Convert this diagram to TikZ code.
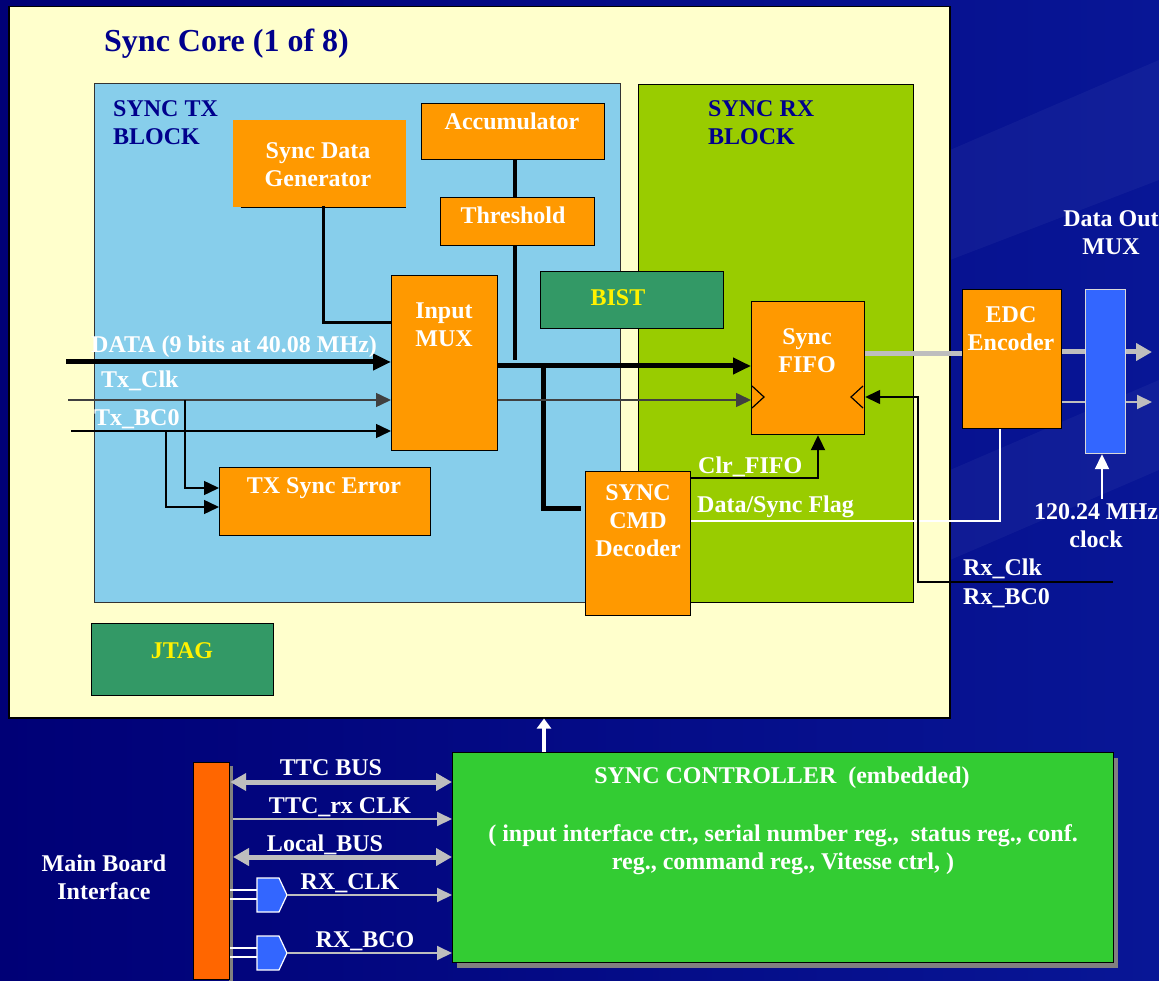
\documentclass[tikz,border=0pt]{standalone}
\usepackage{fontspec}
\setmainfont{Liberation Serif}
\usetikzlibrary{arrows.meta,positioning}

\definecolor{bgdark}{RGB}{0,0,118}
\definecolor{bglight}{RGB}{8,22,150}
\definecolor{corebg}{RGB}{255,255,204}
\definecolor{txbg}{RGB}{135,206,235}
\definecolor{rxbg}{RGB}{153,204,0}
\definecolor{blkorange}{RGB}{255,153,0}
\definecolor{bistgreen}{RGB}{51,153,102}
\definecolor{ctrlgreen}{RGB}{51,204,51}
\definecolor{muxblue}{RGB}{51,102,255}
\definecolor{mbiorange}{RGB}{255,102,0}
\definecolor{titleblue}{RGB}{0,0,140}
\definecolor{wiregray}{RGB}{190,190,190}
\definecolor{clkgray}{RGB}{64,64,64}
\definecolor{shadowgray}{RGB}{128,128,128}

\tikzset{
  blk/.style={draw=black, line width=1.2pt, fill=blkorange, anchor=north west, inner sep=0pt},
  gblk/.style={blk, fill=bistgreen},
  txt/.style={font=\bfseries\fontsize{24}{28}\selectfont, align=center, inner sep=0pt},
  wtxt/.style={txt, text=white},
  btxt/.style={txt, text=titleblue, align=left},
  ytxt/.style={txt, text=yellow},
  bus/.style={line width=5pt},
  wire/.style={line width=1.5pt},
  tip/.style={-{Triangle[length=15pt,width=14pt]}},
  bigtip/.style={-{Triangle[length=18pt,width=16pt]}},
  dtip/.style={{Triangle[length=16pt,width=17pt]}-{Triangle[length=16pt,width=17pt]}},
}

\begin{document}
\begin{tikzpicture}[x=1pt, y=-1pt]
    \useasboundingbox (0,0) rectangle (1159,981);
    % ===== Background =====
    \shade[left color=bgdark, right color=bglight] (0,0) rectangle (1159,981);
    \fill[white, opacity=0.04] (950,150) -- (1159,60) -- (1159,180) -- (950,260) -- cycle;
    \fill[white, opacity=0.04] (950,470) -- (1159,380) -- (1159,470) -- (950,560) -- cycle;

    % ===== Sync core =====
    \node[blk, fill=corebg, line width=1.5pt, minimum width=941pt, minimum height=711pt] (core) at (8,6) {};
    \node[txt, text=titleblue, font=\bfseries\fontsize{32}{36}\selectfont, anchor=west] (title) at (104,44) {Sync Core (1 of 8)};

    \node[blk, fill=txbg, draw=black!80, minimum width=526pt, minimum height=519pt] (txblk) at (94,83) {};
    \node[blk, fill=rxbg, minimum width=275pt, minimum height=518pt] (rxblk) at (638,84) {};
    \node[btxt, anchor=west] (txlbl) at (113,123) {SYNC TX\\BLOCK};
    \node[btxt, anchor=west] (rxlbl) at (708,123) {SYNC RX\\BLOCK};

    % blocks
    \draw[line width=1.5pt] (405,137) -- (405,207) -- (241,207);
    \node[blk, draw=none, minimum width=173pt, minimum height=87pt] (gen) at (232,119) {};
    \node[blk, minimum width=183pt, minimum height=56pt] (acc) at (421,103) {};
    \node[blk, minimum width=154pt, minimum height=48pt] (thr) at (440,197) {};
    \node[blk, minimum width=106pt, minimum height=175pt] (imux) at (391,275) {};
    \node[gblk, minimum width=183pt, minimum height=57pt] (bist) at (540,271) {};
    \node[blk, minimum width=113pt, minimum height=133pt] (fifo) at (751,301) {};
    \node[blk, minimum width=211pt, minimum height=68pt] (txerr) at (219,467) {};
    \node[blk, minimum width=105pt, minimum height=144pt] (cmd) at (585,471) {};
    \node[gblk, minimum width=182pt, minimum height=72pt] (jtag) at (91,623) {};
    \node[blk, minimum width=99pt, minimum height=139pt] (edc) at (962,289) {};
    \node[blk, fill=muxblue, draw=white!85!black, minimum width=40pt, minimum height=164pt] (omux) at (1085,289) {};

    \node[wtxt] (gentxt) at (318,165) {Sync Data\\Generator};
    \node[wtxt] (acctxt) at (512,121) {Accumulator};
    \node[wtxt] (thrtxt) at (513,215) {Threshold};
    \node[wtxt] (imuxtxt) at (444,325) {Input\\MUX};
    \node[ytxt] (bisttxt) at (618,298) {BIST};
    \node[wtxt] (fifotxt) at (807,351) {Sync\\FIFO};
    \node[wtxt] (txerrtxt) at (324,488) {TX Sync Error};
    \node[wtxt] (cmdtxt) at (638,521) {SYNC\\CMD\\Decoder};
    \node[ytxt] (jtagtxt) at (182,651) {JTAG};
    \node[wtxt] (edctxt) at (1011,329) {EDC\\Encoder};
    \node[wtxt] (omuxtxt) at (1111,233) {Data Out\\MUX};
    \node[wtxt] (clktxt) at (1096,526) {120.24 MHz\\clock};

    % ===== TX side wiring =====
    \coordinate (datain) at (66,362);
    \coordinate (clkin) at (68,400);
    \coordinate (bcin) at (71,431);
    \draw[bus, bigtip] (datain) -- (datain -| imux.west);
    \draw[wire, clkgray, tip] (clkin) -- (clkin -| imux.west);
    \draw[wire, tip] (bcin) -- (bcin -| imux.west);
    \draw[wire, tip] (185,400) |- (txerr.west |- 0,488);
    \draw[wire, tip] (166,431) |- (txerr.west |- 0,507);
    \node[wtxt, anchor=west] (datatxt) at (91,347) {DATA (9 bits at 40.08 MHz)};
    \node[wtxt, anchor=west] (txclktxt) at (101,381) {Tx\_Clk};
    \node[wtxt, anchor=west] (txbctxt) at (94,419) {Tx\_BC0};

    \draw[line width=3pt] (323,206) |- (imux.west |- 0,323);
    \draw[line width=4pt] (acc.south -| 515,0) -- (thr.north -| 515,0);
    \draw[line width=4pt] (thr.south -| 515,0) -- (515,360);
    \draw[bus, bigtip] (imux.east |- 0,366) -- (fifo.west |- 0,366);
    \draw[bus] (543,366) |- (581,508);
    \draw[wire, clkgray, tip] (imux.east |- 0,400) -- (fifo.west |- 0,400);

    % clock marks on FIFO
    \draw[line width=1.2pt] (752,386) -- (764,397) -- (752,408);
    \draw[line width=1.2pt] (863,386) -- (851,397) -- (863,408);

    % ===== RX side wiring =====
    \draw[line width=2pt, tip] (cmd.east |- 0,478) -| (fifo.south -| 818,0);
    \node[wtxt, anchor=west] (clrtxt) at (698,467) {Clr\_FIFO};
    \draw[wire, white] (cmd.east |- 0,521) -| (edc.south -| 1000,0);
    \node[wtxt, anchor=west] (flagtxt) at (697,507) {Data/Sync Flag};
    \coordinate (rxin) at (1113,582);
    \draw[wire, tip] (rxin) -| (918,397) -- (fifo.east |- 0,397);
    \node[wtxt, anchor=west] (rxclktxt) at (963,569) {Rx\_Clk};
    \node[wtxt, anchor=west] (rxbctxt) at (963,598) {Rx\_BC0};

    \draw[bus, wiregray] (fifo.east |- 0,354) -- (edc.west |- 0,354);
    \draw[bus, wiregray] (edc.east |- 0,352) -- (omux.west |- 0,352);
    \draw[line width=2pt, wiregray] (edc.east |- 0,402) -- (omux.west |- 0,402);
    \coordinate (out1) at (1152,352);
    \coordinate (out2) at (1152,402);
    \draw[bus, wiregray, -{Triangle[length=16pt,width=17pt]}] (omux.east |- out1) -- (out1);
    \draw[line width=2pt, wiregray, tip] (omux.east |- out2) -- (out2);
    \draw[line width=2pt, white, tip] (1102,499) -- (omux.south -| 1102,0);

    % ===== Bottom: controller and board interface =====
    \fill[shadowgray] (457,758) rectangle (1118,968);
    \node[blk, fill=ctrlgreen, minimum width=661pt, minimum height=210pt] (ctrl) at (452,752) {};
    \node[wtxt] (ctrltitle) at (782,778) {SYNC CONTROLLER~~(embedded)};
    \node[wtxt] (ctrlbody) at (783,850) {( input interface ctr., serial number reg.,~~status reg., conf.\\reg., command reg., Vitesse ctrl, )};

    \fill[shadowgray] (229,766) rectangle (233,981);
    \node[blk, fill=mbiorange, minimum width=36pt, minimum height=217pt] (mbi) at (193,762) {};
    \node[wtxt] (mbitxt) at (104,877) {Main Board\\Interface};

    \draw[line width=4pt, white, -{Triangle[length=10pt,width=14pt]}] (ctrl.north -| 544,0) -- (core.south -| 544,0);

    \draw[bus, wiregray, dtip] (mbi.east |- 0,782) -- (ctrl.west |- 0,782);
    \draw[line width=2pt, wiregray, tip] (233,819) -- (ctrl.west |- 0,819);
    \draw[bus, wiregray, dtip] (233,857) -- (ctrl.west |- 0,857);
    \node[wtxt] (ttcbus) at (331,768) {TTC BUS};
    \node[wtxt] (ttcclk) at (340,807) {TTC\_rx CLK};
    \node[wtxt] (localbus) at (325,845) {Local\_BUS};

    % input buffers
    \foreach \yb/\nm in {895/bufclk, 953/bufbc} {
        \draw[wire, white] (mbi.east |- 0,\yb-5) -- (257,\yb-5);
        \draw[wire, white] (mbi.east |- 0,\yb+4) -- (257,\yb+4);
        \draw[line width=1.2pt, draw=white, fill=muxblue]
            (257,\yb-17) -- (279,\yb-17) -- (287,\yb) -- (279,\yb+17) -- (257,\yb+17) -- cycle;
        \coordinate (\nm) at (287,\yb);
        \draw[line width=2pt, wiregray, tip] (\nm) -- (ctrl.west |- \nm);
    }
    \node[wtxt] (rxclk) at (350,883) {RX\_CLK};
    \node[wtxt] (rxbco) at (365,941) {RX\_BCO};
\end{tikzpicture}
\end{document}
